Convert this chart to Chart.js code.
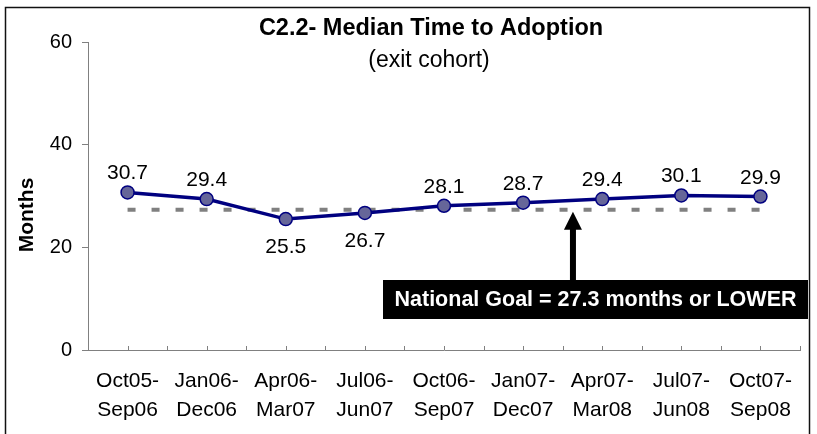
<!DOCTYPE html>
<html>
<head>
<meta charset="utf-8">
<script src="https://cdn.jsdelivr.net/npm/chart.js@4.4.1/dist/chart.umd.min.js"></script>
<style>
  html, body { margin: 0; padding: 0; background: #fff; }
  #wrap { width: 817px; height: 434px; }
</style>
</head>
<body>
<div id="wrap"><canvas id="c" width="817" height="434"></canvas></div>
<script>
// ---- data ----
const categories = [
  ['Oct05-', 'Sep06'], ['Jan06-', 'Dec06'], ['Apr06-', 'Mar07'],
  ['Jul06-', 'Jun07'], ['Oct06-', 'Sep07'], ['Jan07-', 'Dec07'],
  ['Apr07-', 'Mar08'], ['Jul07-', 'Jun08'], ['Oct07-', 'Sep08']
];
const medianMonths = [30.7, 29.4, 25.5, 26.7, 28.1, 28.7, 29.4, 30.1, 29.9];
const goalValue = 27.3;
const goalSeries = [27.3, 27.3, 27.3, 27.3, 27.3, 27.3, 27.3, 27.3, 27.3];
const yTickValues = [0, 20, 40, 60];
const labelBelow = [false, false, true, true, false, false, false, false, false];
const titleText = 'C2.2- Median Time to Adoption';
const subtitleText = '(exit cohort)';
const yAxisTitle = 'Months';
const goalText = 'National Goal = 27.3 months or LOWER';
const arrowIndex = 5.63;

const FONT = '"Liberation Sans", Arial, Helvetica, sans-serif';

const decor = {
  id: 'decor',
  afterDraw(chart) {
    const ctx = chart.ctx;
    const xs = chart.scales.x, ys = chart.scales.y;
    const area = chart.chartArea;
    ctx.save();
    // outer border
    ctx.strokeStyle = '#111';
    ctx.lineWidth = 1.5;
    ctx.strokeRect(5.5, 7.5, 804, 440);

    // x-axis tick marks at half-category steps (pointing inward)
    ctx.strokeStyle = '#808080';
    ctx.lineWidth = 1;
    ctx.beginPath();
    for (let k = -0.5; k <= categories.length - 0.5 + 1e-6; k += 0.5) {
      const px = Math.round(xs.getPixelForValue(k)) + 0.5;
      ctx.moveTo(px, area.bottom);
      ctx.lineTo(px, area.bottom - 4);
    }
    ctx.stroke();

    // titles
    ctx.fillStyle = '#000';
    ctx.textAlign = 'center';
    ctx.textBaseline = 'alphabetic';
    ctx.font = 'bold 23.5px ' + FONT;
    ctx.fillText(titleText, 431, 35);
    ctx.font = '23px ' + FONT;
    ctx.fillText(subtitleText, 429, 67);

    // y-axis title
    ctx.save();
    ctx.translate(27, 215);
    ctx.rotate(-Math.PI / 2);
    ctx.font = 'bold 21px ' + FONT;
    ctx.textBaseline = 'middle';
    ctx.fillText(yAxisTitle, 0, 0);
    ctx.restore();

    // data labels
    const meta = chart.getDatasetMeta(1);
    ctx.font = '21px ' + FONT;
    ctx.textBaseline = 'alphabetic';
    meta.data.forEach((pt, i) => {
      const txt = medianMonths[i].toFixed(1);
      const y = labelBelow[i] ? pt.y + 34 : pt.y - 13;
      ctx.fillText(txt, pt.x, y);
    });

    // annotation arrow
    const ax = xs.getPixelForValue(arrowIndex);
    const tipY = ys.getPixelForValue(goalValue) + 2;
    const boxTop = 280, boxBottom = 319, boxLeft = 383, boxRight = 808;
    ctx.fillStyle = '#000';
    ctx.fillRect(ax - 3, tipY + 16, 6, boxTop - (tipY + 16));
    ctx.beginPath();
    ctx.moveTo(ax, tipY);
    ctx.lineTo(ax - 9, tipY + 18);
    ctx.lineTo(ax + 9, tipY + 18);
    ctx.closePath();
    ctx.fill();

    // annotation box
    ctx.fillRect(boxLeft, boxTop, boxRight - boxLeft, boxBottom - boxTop);
    ctx.fillStyle = '#fff';
    ctx.font = 'bold 21.5px ' + FONT;
    ctx.textAlign = 'center';
    ctx.textBaseline = 'middle';
    ctx.fillText(goalText, (boxLeft + boxRight) / 2, (boxTop + boxBottom) / 2 + 1);
    ctx.restore();
  }
};

new Chart(document.getElementById('c'), {
  type: 'line',
  data: {
    labels: categories,
    datasets: [
      {
        label: 'Goal',
        data: goalSeries,
        borderColor: '#808080',
        borderWidth: 4,
        borderDash: [8, 16],
        pointRadius: 0,
        fill: false,
        order: 2
      },
      {
        label: 'Median',
        data: medianMonths,
        borderColor: '#000080',
        borderWidth: 3.5,
        pointRadius: 6.5,
        pointBorderWidth: 1.5,
        pointBackgroundColor: '#666699',
        pointBorderColor: '#000080',
        fill: false,
        tension: 0,
        order: 1
      }
    ]
  },
  options: {
    responsive: false,
    animation: false,
    events: [],
    layout: { padding: { left: 5, top: 42, right: 17, bottom: 0 } },
    plugins: {
      legend: { display: false },
      title: { display: false },
      tooltip: { enabled: false }
    },
    scales: {
      x: {
        type: 'category',
        offset: true,
        grid: { display: false, drawTicks: false },
        border: { display: true, color: '#808080', width: 1 },
        ticks: {
          color: '#000',
          font: { family: FONT, size: 21, lineHeight: 1.38 },
          padding: 17,
          maxRotation: 0,
          autoSkip: false
        },
        afterFit(s) { s.height = 84; }
      },
      y: {
        min: 0,
        max: 60,
        afterBuildTicks(s) { s.ticks = yTickValues.map(v => ({ value: v })); },
        grid: { drawOnChartArea: false, drawTicks: true, tickLength: 6, color: '#808080' },
        border: { display: true, color: '#808080', width: 1 },
        ticks: {
          color: '#000',
          font: { family: FONT, size: 20 },
          padding: 10
        },
        afterFit(s) { s.width = 83; }
      }
    }
  },
  plugins: [decor]
});
</script>
</body>
</html>
